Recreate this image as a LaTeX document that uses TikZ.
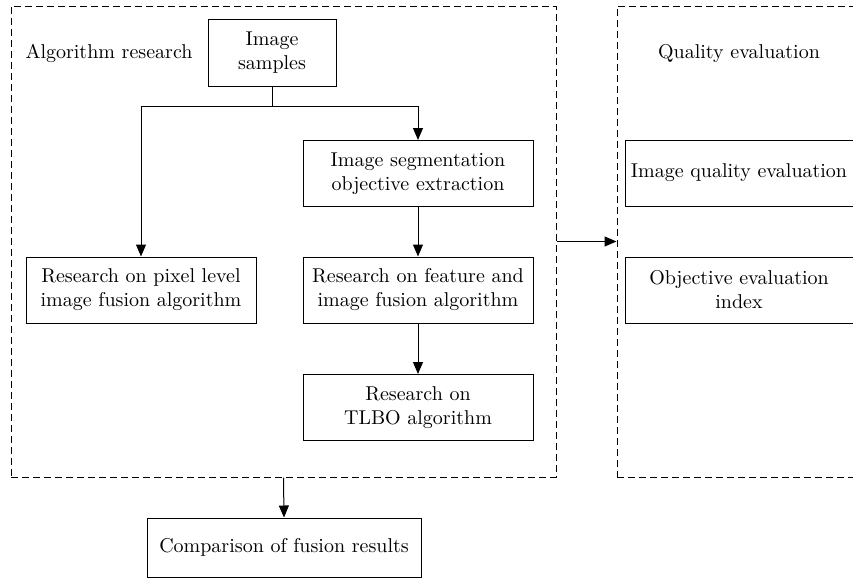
\documentclass[tikz,border=0pt]{standalone}
\usetikzlibrary{arrows.meta}

\tikzset{
    box/.style={draw, line width=0.5pt, align=center, inner sep=2pt,
        minimum width=115pt, minimum height=33pt},
    frame/.style={draw, dash pattern=on 3.5pt off 2pt, line width=0.5pt, inner sep=0pt},
    arr/.style={-{Triangle[length=6pt, width=5pt]}, line width=0.5pt}
}

\begin{document}
\begin{tikzpicture}[x=0.5pt, y=-0.5pt]
        \clip (0,0) rectangle (853,580);

        % dashed frames
        \node[frame, minimum width=272.5pt, minimum height=235.5pt] (algoframe) at (283.5,241.5) {};
        \node[frame, minimum width=140pt, minimum height=235.5pt] (qualframe) at (757,241.5) {};
        \node (algolabel) at (109,53) {Algorithm research};
        \node (quallabel) at (739,53) {Quality evaluation};

        % boxes
        \node[box, minimum width=64pt, minimum height=33.5pt] (samples) at (272,52.5) {Image\\samples};
        \node[box] (seg) at (418,173.5) {Image segmentation\\objective extraction};
        \node[box] (pixel) at (141,290) {Research on pixel level\\image fusion algorithm};
        \node[box] (feature) at (418,290) {Research on feature and\\image fusion algorithm};
        \node[box] (tlbo) at (418,407.5) {Research on\\TLBO algorithm};
        \node[box, minimum width=114pt] (quality) at (739,173) {Image quality evaluation};
        \node[box, minimum width=114pt] (index) at (739,290) {Objective evaluation\\index};
        \node[box, minimum width=137pt, minimum height=29.5pt] (compare) at (284,547.5) {Comparison of fusion results};

        % connectors
        \coordinate (split) at (272,106);
        \draw[line width=0.5pt] (samples.south) -- (split);
        \draw[arr] (split) -| (pixel.north);
        \draw[arr] (split) -| (seg.north);
        \draw[arr] (seg) -- (feature);
        \draw[arr] (feature) -- (tlbo);
        \draw[arr] (algoframe.east) -- (qualframe.west);
        \draw[arr] (algoframe.south) -- (compare.north);
    \end{tikzpicture}
\end{document}
